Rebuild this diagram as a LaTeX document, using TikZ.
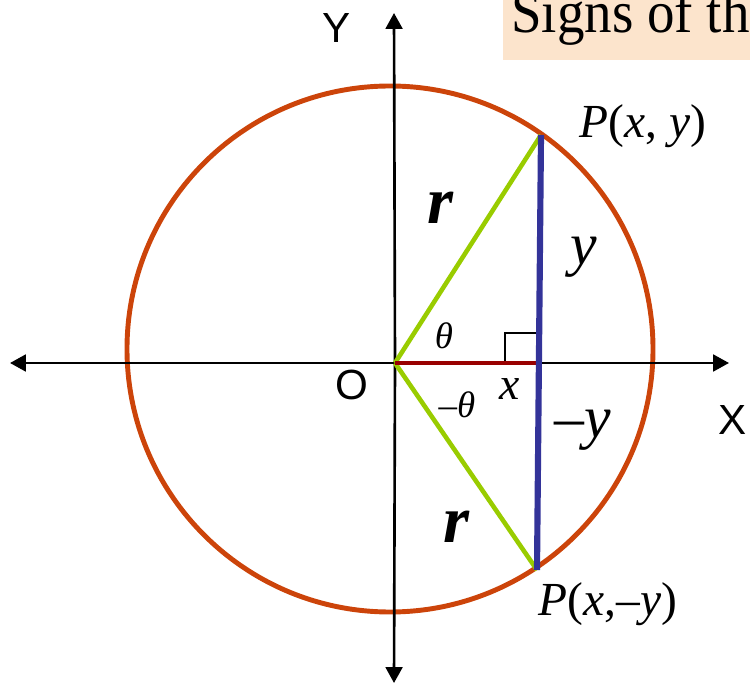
\documentclass[tikz,border=0pt]{standalone}
\usepackage{fontspec}
\setmainfont{Liberation Serif}
\newfontfamily\axisfont{Liberation Sans}
\usetikzlibrary{arrows.meta}
\definecolor{ringred}{RGB}{204,68,10}
\definecolor{radgreen}{RGB}{153,204,0}
\definecolor{ordblue}{RGB}{51,51,153}
\definecolor{absred}{RGB}{153,0,0}
\definecolor{peach}{RGB}{252,228,204}

\begin{document}
\begin{tikzpicture}[x=0.02cm, y=-0.02cm,
  axis/.style={line width=1.5pt, -{Triangle[length=9pt,width=9.5pt]}},
  radius line/.style={radgreen, line width=2.6pt},
  axislbl/.style={font=\axisfont\fontsize{24}{24}\selectfont, inner sep=0pt},
  biglbl/.style={font=\fontsize{#1}{#1}\selectfont\itshape, inner sep=0pt},
  boldlbl/.style={font=\fontsize{#1}{#1}\selectfont\itshape\bfseries, inner sep=0pt}]
\useasboundingbox (0,0) rectangle (750,685);
\clip (0,0) rectangle (750,685);
\coordinate (O) at (395,363); \coordinate (C) at (390,349);
\coordinate (P) at (541,135); \coordinate (Q) at (537,570); \coordinate (F) at (538,363);
\coordinate (L) at (10,363); \coordinate (R) at (729,363);
\coordinate (T) at (394,13); \coordinate (B) at (394,683);
\coordinate (K1) at (505,363); \coordinate (K2) at (505,333); \coordinate (K3) at (537,333);
% title strip
\fill[peach] (503,0) rectangle (760,60);
\node[anchor=base west, inner sep=0pt, xscale=0.92, font=\fontsize{34}{34}\selectfont] (title) at (511,33) {Signs of th};
\draw[ringred, line width=2.8pt] (C) circle (263);
\draw[axis] (O) -- (L); \draw[axis] (O) -- (R);
\draw[axis] (O) -- (T); \draw[axis] (O) -- (B);
\draw[line width=1.1pt] (K1) -- (K2) -- (K3);
\draw[radius line] (O) -- (P); \draw[radius line] (O) -- (Q);
\draw[absred, line width=2.6pt] (O) -- (F);
\draw[ordblue, line width=3.5pt] (P) -- (Q);
\node[axislbl] (ylab) at (337,28) {Y}; \node[axislbl] (olab) at (352,385) {O};
\node[axislbl] (xlab) at (733,420) {X};
\node[biglbl=27] (plab) at (643,126) {P\upshape(\itshape x\upshape, \itshape y\upshape)};
\node[biglbl=27] (qlab) at (608,604) {P\upshape(\itshape x\upshape,–\itshape y\upshape)};
\node[boldlbl=38] (r1) at (440,208) {r};
\node[boldlbl=38] (r2) at (456,527) {r};
\node[biglbl=34] (ylen) at (584,257) {y};
\node[biglbl=34] (nylen) at (583,430) {\upshape–\itshape y};
\node[biglbl=21] (th) at (444,336) {θ};
\node[biglbl=21] (nth) at (457,405) {\upshape–\itshape θ};
\node[biglbl=26] (xlen) at (510,389) {x};
\end{tikzpicture}
\end{document}
